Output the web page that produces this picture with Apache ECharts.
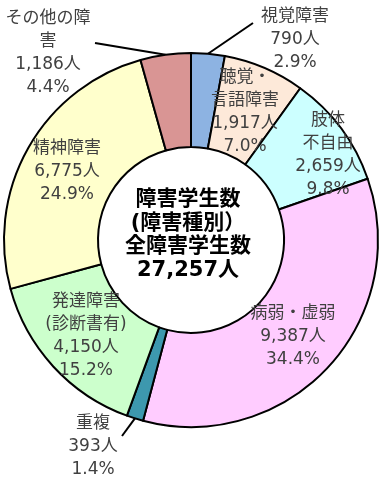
<!DOCTYPE html>
<html>
<head>
<meta charset="utf-8">
<script src="https://cdn.jsdelivr.net/npm/echarts@6/dist/echarts.min.js"></script>
<style>
html,body{margin:0;padding:0;background:#fff;}
#chart{width:392px;height:496px;}
</style>
</head>
<body>
<div id="chart"></div>
<script>
// ---- data ----
var categories = ['視覚障害', '聴覚・\n言語障害', '肢体\n不自由', '病弱・虚弱', '重複', '発達障害\n(診断書有)', '精神障害', 'その他の障\n害'];
var students = [790, 1917, 2659, 9387, 393, 4150, 6775, 1186];
var centerLines = ['障害学生数', '(障害種別）', '全障害学生数'];

// ---- styles / layout (not data) ----
var colors = ['#8db3e2', '#fde9d9', '#ccffff', '#ffccff', '#3d98ae', '#ccffcc', '#ffffcc', '#d99594'];
var outsideIdx = [0, 4, 7];
var labelPos = [[295, 40], [245, 112], [328, 155], [293, 337], [93, 447], [86, 336], [67, 172], [48, 53]];
// where each leader line meets its label (layout only)
var lineEnds = { 0: [253, 23], 4: [122, 436], 7: [95, 43] };

function fmt(n) { return n.toString().replace(/\B(?=(\d{3})+(?!\d))/g, ','); }
var total = students.reduce(function (a, b) { return a + b; }, 0);

var FONT = '"DejaVu Sans", "Noto Sans CJK JP", sans-serif';

var data = categories.map(function (c, i) {
  var out = outsideIdx.indexOf(i) >= 0;
  return {
    name: c,
    value: students[i],
    itemStyle: { color: colors[i] },
    label: { position: out ? 'outside' : 'inside' },
    labelLine: { show: out }
  };
});

var chart = echarts.init(document.getElementById('chart'));
chart.setOption({
  animation: false,
  backgroundColor: '#fff',
  series: [{
    type: 'pie',
    center: [191, 240],
    radius: [93, 187],
    startAngle: 90,
    clockwise: true,
    avoidLabelOverlap: false,
    itemStyle: { borderColor: '#000', borderWidth: 2 },
    label: {
      show: true,
      color: '#404040',
      fontFamily: FONT,
      fontSize: 17,
      lineHeight: 23,
      align: 'center',
      formatter: function (p) {
        return p.name + '\n' + fmt(p.value) + '人\n' + (p.value / total * 100).toFixed(1) + '%';
      }
    },
    labelLine: {
      show: true,
      length: 8,
      length2: 0,
      smooth: false,
      lineStyle: { color: '#000', width: 2 }
    },
    labelLayout: function (params) {
      var i = params.dataIndex;
      var p = labelPos[i];
      var res = { x: p[0], y: p[1], align: 'center', verticalAlign: 'middle' };
      if (lineEnds[i] && params.labelLinePoints && params.labelLinePoints.length) {
        res.labelLinePoints = [params.labelLinePoints[0].slice(), lineEnds[i]];
      }
      return res;
    },
    emphasis: { disabled: true },
    data: data
  }],
  graphic: [{
    type: 'text',
    x: 188,
    y: 235,
    style: {
      text: centerLines.join('\n') + '\n' + fmt(total) + '人',
      fill: '#000',
      font: 'bold 21px ' + FONT,
      lineHeight: 23.5,
      align: 'center',
      verticalAlign: 'middle'
    }
  }]
});
</script>
</body>
</html>
